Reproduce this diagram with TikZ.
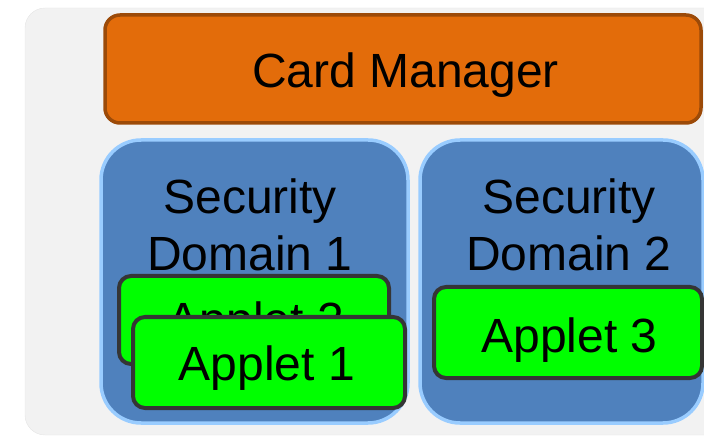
\documentclass[tikz,border=0pt]{standalone}
\usepackage{fontspec}
\setmainfont{Liberation Sans}
\usetikzlibrary{positioning}
\definecolor{cmorange}{HTML}{E36C0A}
\definecolor{cmbrown}{HTML}{9C4A08}
\definecolor{sdblue}{HTML}{4F81BD}
\definecolor{sdrim}{HTML}{99CCFF}
\definecolor{appgreen}{HTML}{00FF00}
\definecolor{apprim}{HTML}{353535}
\definecolor{cardgrey}{HTML}{F2F2F2}
\begin{document}
\begin{tikzpicture}[x=1pt, y=-1pt,
      cmbox/.style={rectangle, rounded corners=15pt, draw=cmbrown, line width=3.5pt, fill=cmorange, minimum width=596pt, minimum height=108pt},
      sdbox/.style={rectangle, rounded corners=40pt, draw=sdrim, line width=3.5pt, fill=sdblue, minimum height=283pt},
      appbox/.style={rectangle, rounded corners=12pt, draw=apprim, line width=4pt, fill=appgreen, minimum width=271pt, minimum height=90pt},
      lbl/.style={inner sep=0pt, font=\fontsize{48}{57}\selectfont, align=center}]

\useasboundingbox (0,0) rectangle (704,438);
\clip (0,0) rectangle (704,438);
\fill[cardgrey, draw=black!10, rounded corners=20pt] (25,8) rectangle (740,435);

\node[cmbox] (cm) at (403,69) {};
\node[lbl, anchor=base] (cmtext) at (405.5,88) {Card Manager};

\node[sdbox, minimum width=307pt] (sd1) at (254.5,281.5) {};
\node[sdbox, minimum width=283pt] (sd2) at (561.5,281.5) {};
\node[lbl, anchor=north] (sd1text) at (250,179) {Security\\Domain 1};
\node[lbl, anchor=north] (sd2text) at (569,179) {Security\\Domain 2};

\node[appbox, minimum width=270pt, minimum height=88pt] (a2) at (254,320) {};
\node[lbl, anchor=base] (a2text) at (256,336) {Applet 2};
\node[appbox, minimum width=272pt, minimum height=91pt] (a1) at (269,362.5) {};
\node[lbl, anchor=base] (a1text) at (267,380) {Applet 1};
\node[appbox, minimum width=268pt, minimum height=91pt] (a3) at (568,332.5) {};
\node[lbl, anchor=base] (a3text) at (569.5,352) {Applet 3};

\end{tikzpicture}
\end{document}
